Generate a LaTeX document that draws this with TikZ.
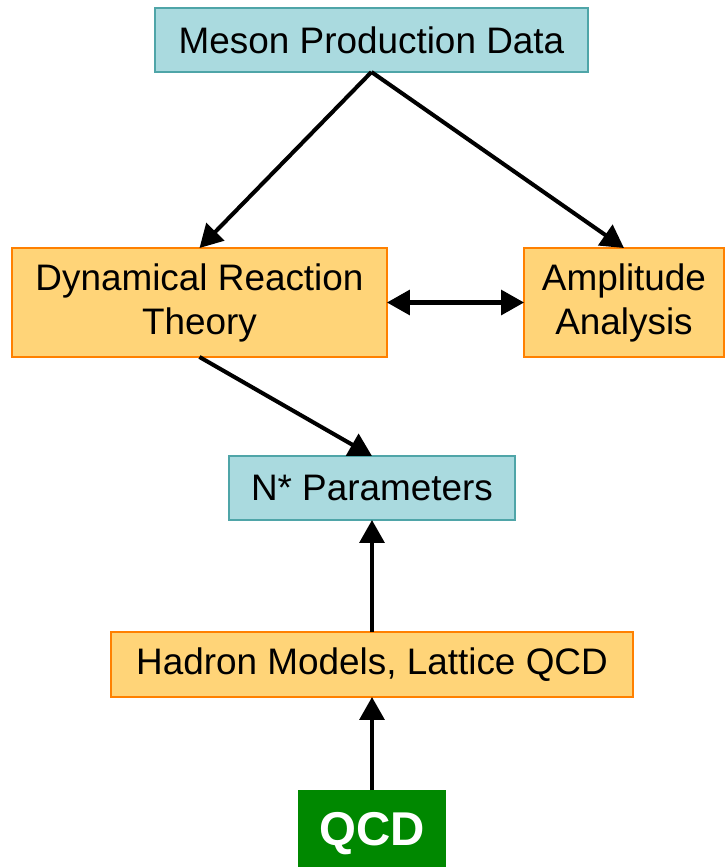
\documentclass[tikz,border=0pt]{standalone}
\usepackage{fontspec}
\setmainfont{Liberation Sans}
\usepackage{tikz}
\usetikzlibrary{arrows.meta}
\usetikzlibrary{positioning}
\definecolor{boxcyan}{HTML}{AADADF}
\definecolor{edgecyan}{HTML}{4FA5A8}
\definecolor{boxorange}{HTML}{FFD478}
\definecolor{edgeorange}{HTML}{FF8000}
\definecolor{qcdgreen}{HTML}{008800}
\tikzset{
% Define standard arrow tip
>={Triangle[length=13pt, width=14pt]},
databox/.style={rectangle, draw=edgecyan, fill=boxcyan, line width=0.8pt,
  font=\fontsize{21}{25}\selectfont, align=center},
theorybox/.style={rectangle, draw=edgeorange, fill=boxorange, line width=1pt,
  font=\fontsize{21}{25}\selectfont, align=center},
flow/.style={line width=2.3pt}
}
\begin{document}
\begin{tikzpicture}[x=0.02cm, y=-0.02cm, inner sep=0, outer sep=0]
  \useasboundingbox (0,0) rectangle (725,867);

  \node[databox, minimum width=8.66cm, minimum height=1.28cm] (meson) at (371.5,40) {Meson Production Data};

  % middle row
  \node[theorybox, minimum width=7.5cm, minimum height=2.18cm] (dyn) at (199.5,302.5) {Dynamical Reaction\\Theory};
  \node[theorybox, minimum width=4cm, minimum height=2.18cm] (ampl) at (624,302.5) {Amplitude\\Analysis};

  \node[databox, minimum width=5.72cm, minimum height=1.28cm] (nstar) at (372,488) {N* Parameters};
  \node[theorybox, minimum width=10.44cm, minimum height=1.3cm] (hadron) at (372,664.5) {Hadron Models, Lattice QCD};
  \node[rectangle, fill=qcdgreen, text=white, minimum width=2.96cm, minimum height=1.76cm,
    font=\fontsize{27}{30}\selectfont\bfseries] (qcd) at (372,834) {QCD};

  \draw[flow, ->] (meson.south) -- (dyn.north);
  \draw[flow, ->] (meson.south) -- (ampl.north);
  \draw[flow, <->] (dyn.east) -- (ampl.west);
  \draw[flow, ->] (dyn.south) -- (nstar.north);
  \draw[flow, ->] (hadron.north) -- (nstar.south);
  \draw[flow, ->] (qcd.north) -- (hadron.south);
\end{tikzpicture}
\end{document}
